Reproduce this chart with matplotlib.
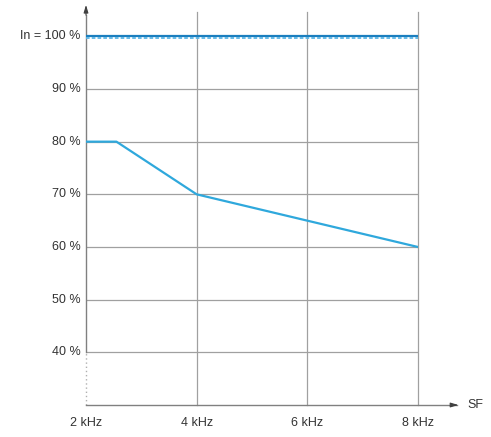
import matplotlib.pyplot as plt

# data
freq_khz = [2, 4, 6, 8]
freq_labels = ['2 kHz', '4 kHz', '6 kHz', '8 kHz']
pct_ticks = [40, 50, 60, 70, 80, 90, 100]
pct_labels = ['40 %', '50 %', '60 %', '70 %', '80 %', '90 %', 'In = 100 %']

top_x = [2, 8]
top_y = [100, 100]
top_dash_y = [99.7, 99.7]

derate_x = [2, 2.55, 4, 8]
derate_y = [80, 80, 70, 60]

plt.rcParams.update({'font.family': 'Liberation Sans', 'font.size': 9})

fig = plt.figure(figsize=(4.91, 4.37), dpi=100)
ax = fig.add_axes([86 / 491, 1 - 405 / 437, (418 - 86) / 491, 395 / 437])
ax.set_xlim(2, 8)
ax.set_ylim(30, 105)
for s in ax.spines.values():
    s.set_visible(False)
ax.set_xticks([])
ax.set_yticks([])

grid_c = '#a0a0a0'
# horizontal grid
for v in pct_ticks[:-1]:
    ax.plot([2, 8], [v, v], color=grid_c, lw=0.9, zorder=1)
# vertical grid
for f in freq_khz[1:]:
    ax.plot([f, f], [30, 104.6], color=grid_c, lw=0.9, zorder=1, clip_on=False)

# axes: left solid above 40 %, dotted below (broken scale)
ax.plot([2, 2], [40, 104], color='#808080', lw=1.0, clip_on=False, zorder=2)
ax.plot([2, 2], [30, 40], color='#b0b0b0', lw=1.0, ls=(0, (1, 2)), clip_on=False, zorder=2)
ax.annotate('', xy=(2, 106.5), xytext=(2, 103.5),
            arrowprops=dict(arrowstyle='-|>,head_length=0.5,head_width=0.15', color='#404040', lw=0.8),
            annotation_clip=False)
ax.plot([2, 8.7], [30, 30], color='#808080', lw=1.0, clip_on=False, zorder=2)
ax.annotate('', xy=(8.78, 30), xytext=(8.6, 30),
            arrowprops=dict(arrowstyle='-|>,head_length=0.5,head_width=0.15', color='#404040', lw=0.8),
            annotation_clip=False)
ax.text(8.9, 30, 'SF', ha='left', va='center', color='#333333')

# tick labels
for f, lab in zip(freq_khz, freq_labels):
    ax.text(f, 26.6, lab, ha='center', va='center', color='#333333')
for v, lab in zip(pct_ticks, pct_labels):
    ax.text(1.9, v, lab, ha='right', va='center', color='#333333')

# curves
ax.plot(top_x, top_y, color='#1b7fbf', lw=1.6, zorder=3, solid_capstyle='butt')
ax.plot(top_x, top_dash_y, color='#5bb5e5', lw=1.3, ls=(0, (2, 1.2)), zorder=3)
ax.plot(derate_x, derate_y, color='#2fa8dc', lw=1.6, zorder=3)

fig.savefig('out.png', dpi=100)
